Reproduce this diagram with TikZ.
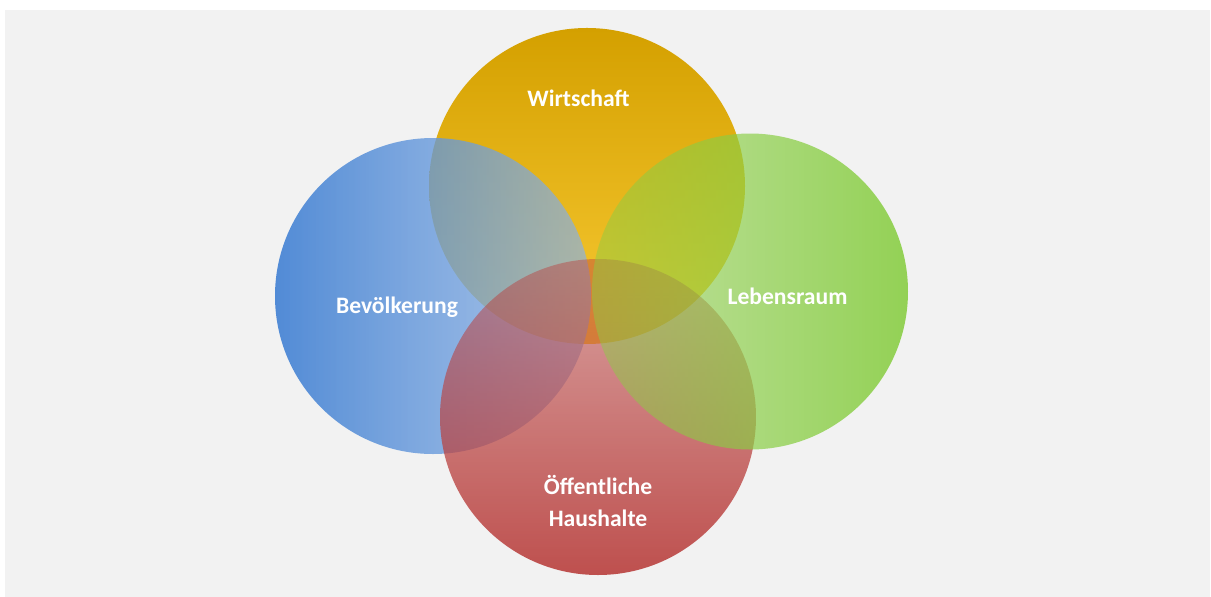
\documentclass[tikz,border=0pt]{standalone}
\usepackage{fontspec}
\setmainfont{Carlito}
\usetikzlibrary{fadings}
\definecolor{bgwhite}{RGB}{255,255,255}
\definecolor{bggray}{RGB}{242,242,242}
\definecolor{wTop}{RGB}{212,160,0}
\definecolor{wBot}{RGB}{248,202,52}
\definecolor{bLeft}{RGB}{58,124,210}
\definecolor{bRight}{RGB}{140,178,228}
\definecolor{lCol}{RGB}{137,206,68}
\definecolor{oCol}{RGB}{186,66,64}
\tikzfading[name=fadeB, left color=transparent!13, right color=transparent!32]
\tikzfading[name=fadeL, left color=transparent!55, right color=transparent!10]
\tikzfading[name=fadeO, top color=transparent!55, bottom color=transparent!8]
\tikzset{
  venn/.style={circle, inner sep=0pt, minimum size=158pt},
  lbl/.style={text=white, font=\fontsize{11.8}{16}\selectfont\bfseries, align=center}
}
\begin{document}
\begin{tikzpicture}[x=0.5pt, y=-0.5pt]
\useasboundingbox (0,0) rectangle (1211,597);
\fill[bgwhite] (0,0) rectangle (1211,597);
\fill[bggray] (5,10) rectangle (1210,597);
\node[venn, top color=wTop, bottom color=wBot] (w) at (587,186) {};
\node[venn, left color=bLeft, right color=bRight, path fading=fadeB, fit fading=true] (b) at (433,296) {};
\node[venn, fill=oCol, path fading=fadeO, fit fading=true] (o) at (598,417) {};
\node[venn, fill=lCol, path fading=fadeL, fit fading=true] (l) at (750,291.5) {};
\node[lbl] (tw) at (578.5,98) {Wirtschaft};
\node[lbl] (tb) at (397,307) {Bevölkerung};
\node[lbl] (tl) at (787.5,296) {Lebensraum};
\node[lbl] (to) at (598,501) {Öffentliche\\Haushalte};
\end{tikzpicture}
\end{document}
